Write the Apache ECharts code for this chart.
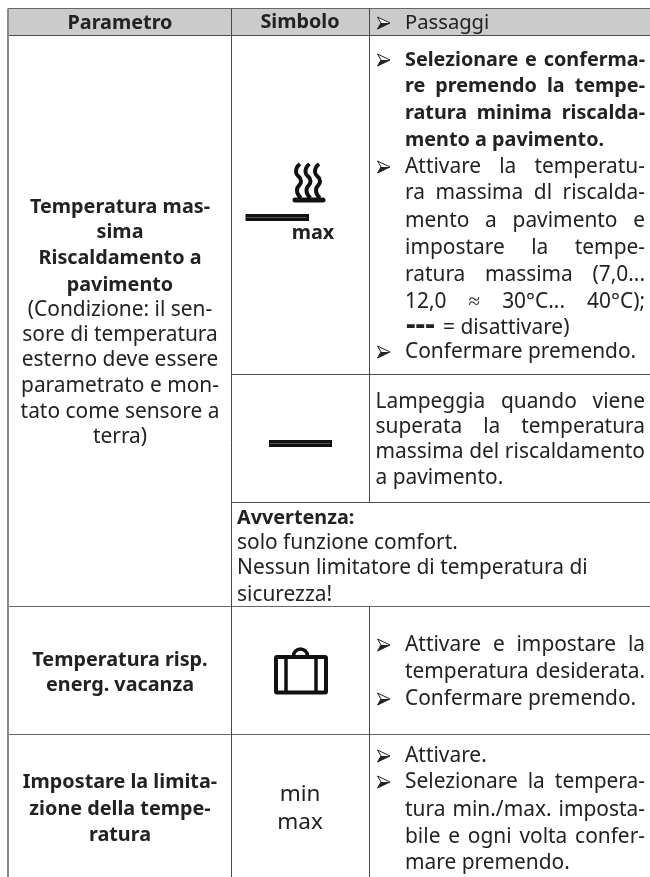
<!DOCTYPE html>
<html>
<head>
<meta charset="utf-8">
<style>
html,body{margin:0;padding:0;background:#fff}
#chart{width:650px;height:877px}
</style>
<script src="https://cdn.jsdelivr.net/npm/echarts@6/dist/echarts.min.js"></script>
</head>
<body>
<div id="chart"></div>
<script>
// header cells
var headers = ['Parametro', 'Simbolo', 'Passaggi'];

// first column
var paramHeating = ['Temperatura mas-', 'sima', 'Riscaldamento a', 'pavimento'];
var paramHeatingNote = ['(Condizione: il sen-', 'sore di temperatura', 'esterno deve essere', 'parametrato e mon-', 'tato come sensore a', 'terra)'];
var paramHoliday = ['Temperatura risp.', 'energ. vacanza'];
var paramLimit = ['Impostare la limita-', 'zione della tempe-', 'ratura'];

// third column
var stepsHeatingBold = ['Selezionare e conferma-', 're premendo la tempe-', 'ratura minima riscalda-', 'mento a pavimento.'];
var stepsHeating = ['Attivare la temperatu-', 'ra massima dl riscalda-', 'mento a pavimento e', 'impostare la tempe-', 'ratura massima (7,0...', '12,0 ≈ 30°C... 40°C);'];
var stepsHeatingOff = ['---', '= disattivare)'];
var stepConfirm = 'Confermare premendo.';
var blinkText = ['Lampeggia quando viene', 'superata la temperatura', 'massima del riscaldamento', 'a pavimento.'];
var warnTitle = 'Avvertenza:';
var warnText = ['solo funzione comfort.', 'Nessun limitatore di temperatura di', 'sicurezza!'];
var stepsHoliday = ['Attivare e impostare la', 'temperatura desiderata.'];
var stepActivate = 'Attivare.';
var stepsLimit = ['Selezionare la tempera-', 'tura min./max. imposta-', 'bile e ogni volta confer-', 'mare premendo.'];
var symbolMax = 'max';
var symbolMinMax = ['min', 'max'];

var FONT = '"Noto Sans"';
var SIZE = 20.9;
var SIZE_BOLD = 19.8;
var INK = '#222';
var LINE = '#4a4a4a';
var gfx = [];
var ctx = document.createElement('canvas').getContext('2d');

function font(bold, size) {
    return bold ? 'bold ' + (size || SIZE_BOLD) + 'px ' + FONT : (size || SIZE) + 'px ' + FONT;
}

function text(str, x, y, bold, align, size) {
    gfx.push({
        type: 'text', x: x, y: y, silent: true,
        style: {text: str, font: font(bold, size), fill: INK, textAlign: align || 'left', textVerticalAlign: 'middle'}
    });
}

// block text: spread the words between left and right
function justified(str, left, right, y, bold) {
    var words = str.split(' ');
    ctx.font = font(bold);
    var used = 0;
    words.forEach(function (w) { used += ctx.measureText(w).width; });
    var gap = (right - left - used) / (words.length - 1);
    var x = left;
    words.forEach(function (w) {
        text(w, x, y, bold);
        x += ctx.measureText(w).width + gap;
    });
}

function bullet(y) {
    gfx.push({
        type: 'polygon', silent: true,
        shape: {points: [[377.5, y - 6], [390, y], [377.5, y + 6], [381, y]]},
        style: {fill: '#fff', stroke: INK, lineWidth: 1}
    });
    gfx.push({
        type: 'polygon', silent: true,
        shape: {points: [[377.5, y + 6], [390, y], [381, y]]},
        style: {fill: INK}
    });
}

function hline(x1, x2, y, color, w) {
    gfx.push({type: 'line', silent: true, shape: {x1: x1, y1: y, x2: x2, y2: y}, style: {stroke: color || LINE, lineWidth: w || 1}});
}
function vline(x, y1, y2, color, w) {
    gfx.push({type: 'line', silent: true, shape: {x1: x, y1: y1, x2: x, y2: y2}, style: {stroke: color || LINE, lineWidth: w || 1}});
}

function flatBar(x1, x2, y1, y2) {
    gfx.push({type: 'rect', silent: true, shape: {x: x1, y: y1, width: x2 - x1, height: y2 - y1}, style: {fill: '#111'}});
    hline(x1 + 1, x2 - 2, (y1 + y2) / 2, '#555', 1);
}

// grid of the table
var colX = [8, 231.5, 369.5, 650];
var rowY = [8.5, 35.5, 374.5, 502.5, 606.5, 734.5, 877];

gfx.push({type: 'rect', silent: true, shape: {x: colX[0], y: rowY[0], width: colX[3] - colX[0], height: rowY[1] - rowY[0]}, style: {fill: '#cbcbcb'}});
hline(colX[0], colX[3], rowY[0], '#666');
hline(colX[0], colX[3], rowY[1]);
hline(colX[1], colX[3], rowY[2]);
hline(colX[1], colX[3], rowY[3]);
hline(colX[0], colX[3], rowY[4], '#666');
hline(colX[0], colX[3], rowY[5], '#666');
vline(colX[0], rowY[0], rowY[6], '#8a8a8a', 2);
vline(colX[1], rowY[0], rowY[6]);
vline(colX[2], rowY[0], rowY[3]);
vline(colX[2], rowY[4], rowY[6]);

// header row
text(headers[0], 120, 23, true, 'center');
text(headers[1], 300, 22.5, true, 'center');
bullet(23);
text(headers[2], 405, 23, false, 'left', 20.2);

// first column
[207, 232, 258, 285].forEach(function (y, i) { text(paramHeating[i], 120, y, true, 'center'); });
[310, 335, 360, 386, 412, 437].forEach(function (y, i) { text(paramHeatingNote[i], 120, y, false, 'center'); });
[660, 685].forEach(function (y, i) { text(paramHoliday[i], 120, y, true, 'center'); });
[782, 809, 835].forEach(function (y, i) { text(paramLimit[i], 120, y, true, 'center'); });

// third column, heating
var right = 645;
bullet(60);
[60, 86, 113].forEach(function (y, i) { justified(stepsHeatingBold[i], 405, right, y, true); });
text(stepsHeatingBold[3], 405, 140, true);
bullet(167);
[167, 193, 221, 248, 275, 302].forEach(function (y, i) { justified(stepsHeating[i], 405, right, y); });
text(stepsHeatingOff[0], 406, 325, true, 'left', 30);
text(stepsHeatingOff[1], 443, 328);
bullet(352);
text(stepConfirm, 405, 352);

[402, 427, 452].forEach(function (y, i) { justified(blinkText[i], 375.5, right, y); });
text(blinkText[3], 375.5, 478);

text(warnTitle, 237, 518, true);
[543, 568, 595].forEach(function (y, i) { text(warnText[i], 237, y); });

// third column, holiday
bullet(645);
justified(stepsHoliday[0], 405, right, 645);
justified(stepsHoliday[1], 405, right, 672);
bullet(699);
text(stepConfirm, 405, 699);

// third column, limits
bullet(756);
text(stepActivate, 405, 756);
bullet(782);
[782, 810, 837].forEach(function (y, i) { justified(stepsLimit[i], 405, right, y); });
text(stepsLimit[3], 405, 863);

// symbols
[300, 309.5, 319].forEach(function (x) {
    gfx.push({
        type: 'polyline', silent: true,
        shape: {points: [[x, 164], [x - 4, 172], [x + 1, 181], [x - 3, 190], [x + 1, 198]], smooth: 0.6},
        style: {stroke: '#111', lineWidth: 4, fill: null}
    });
});
gfx.push({type: 'rect', silent: true, shape: {x: 292.5, y: 197.5, width: 33, height: 5, r: 2.5}, style: {fill: '#111'}});
flatBar(245.5, 309, 214, 221);
text(symbolMax, 313, 233, true, 'center');
flatBar(269, 332, 440, 447);

// suitcase
gfx.push({type: 'rect', silent: true, shape: {x: 276, y: 657, width: 50, height: 35.5, r: 1}, style: {fill: null, stroke: '#111', lineWidth: 4}});
vline(286, 656, 693, '#111', 3.5);
vline(316, 656, 693, '#111', 3.5);
gfx.push({type: 'arc', silent: true, shape: {cx: 300.5, cy: 656, r: 7, startAngle: Math.PI, endAngle: 0, clockwise: true}, style: {stroke: '#111', lineWidth: 3.5, fill: null}});

text(symbolMinMax[0], 300, 795, false, 'center', 22.5);
text(symbolMinMax[1], 300, 823, false, 'center', 22.5);

var chart = echarts.init(document.getElementById('chart'), null, {renderer: 'canvas'});
chart.setOption({
    backgroundColor: '#fff',
    animation: false,
    graphic: {elements: gfx}
});
</script>
</body>
</html>
